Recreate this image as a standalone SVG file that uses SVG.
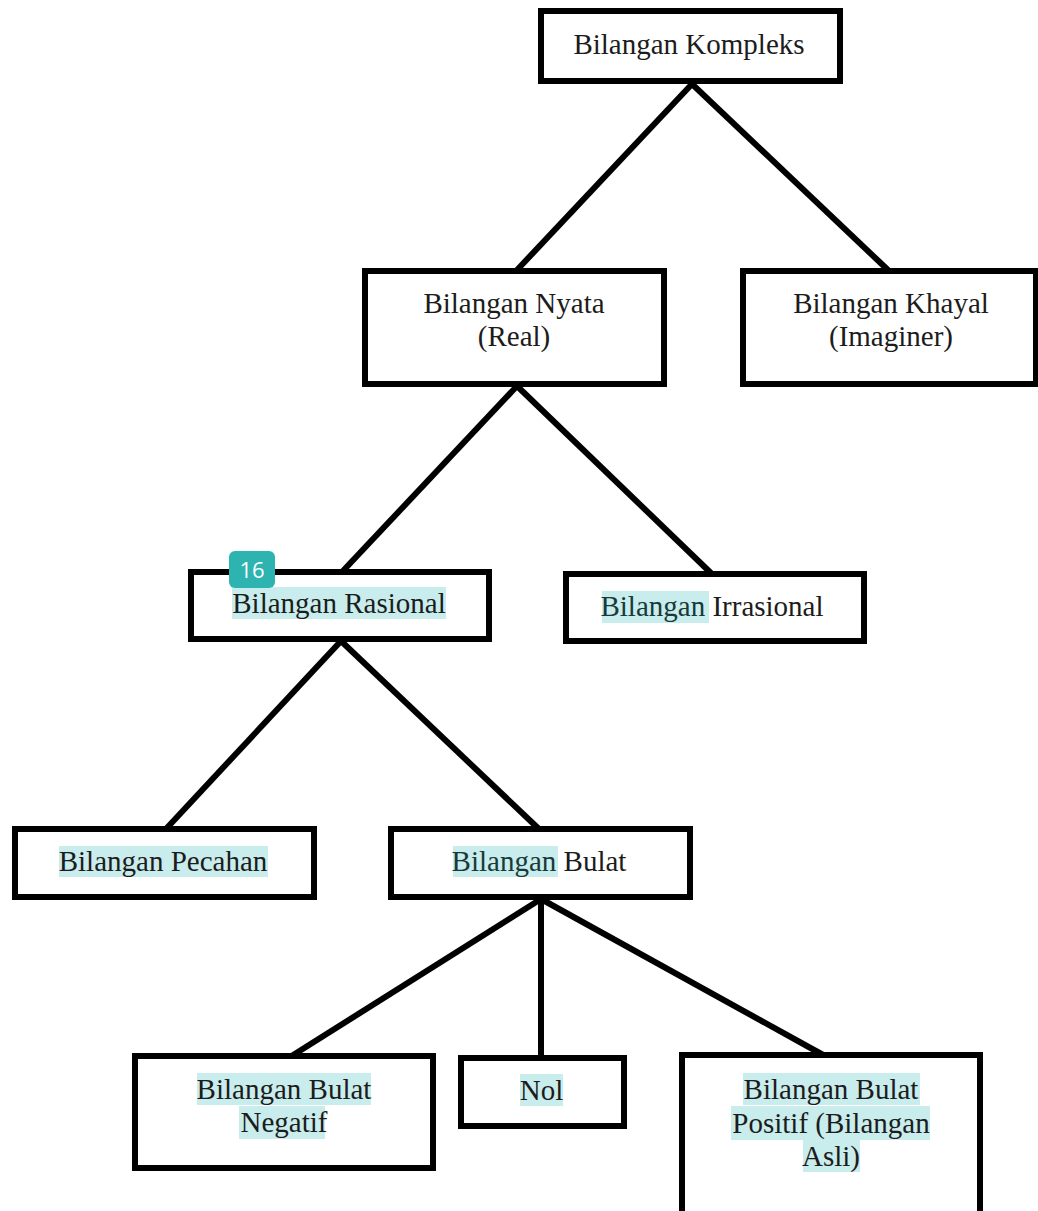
<svg xmlns="http://www.w3.org/2000/svg" width="1038" height="1211" viewBox="0 0 1038 1211">
<style>
.box{fill:#fff;stroke:#000;stroke-width:6}
.hl{fill:#c9ecec}
text.t{font-family:'Liberation Serif','Tinos','Times New Roman','DejaVu Serif',serif;font-size:29px;fill:#1c1c1c;text-anchor:middle}
.h{fill:#173a3a}
.con line{stroke:#000;stroke-width:6;stroke-linecap:butt}
</style>
<rect width="1038" height="1211" fill="#fff"/>
<g id="connectors" class="con">
<line x1="692" y1="84" x2="517" y2="270"/>
<line x1="692" y1="84" x2="888" y2="270"/>
<line x1="517" y1="386" x2="341" y2="573"/>
<line x1="517" y1="386" x2="713" y2="575"/>
<line x1="341" y1="641" x2="165" y2="830"/>
<line x1="341" y1="641" x2="540" y2="830"/>
<line x1="541" y1="899" x2="290" y2="1057"/>
<line x1="541" y1="899" x2="541" y2="1059"/>
<line x1="541" y1="899" x2="825" y2="1056"/>
</g>
<g id="kompleks">
<rect class="box" x="541" y="11" width="299" height="70"/>
<text class="t" x="689" y="54" font-family="Liberation Serif, serif">Bilangan Kompleks</text>
</g>
<g id="nyata">
<rect class="box" x="365" y="271" width="299" height="113"/>
<text class="t" x="514" y="313" font-family="Liberation Serif, serif">Bilangan Nyata</text>
<text class="t" x="514" y="346" font-family="Liberation Serif, serif">(Real)</text>
</g>
<g id="khayal">
<rect class="box" x="743" y="271" width="293" height="113"/>
<text class="t" x="891" y="313" font-family="Liberation Serif, serif">Bilangan Khayal</text>
<text class="t" x="891" y="346" font-family="Liberation Serif, serif">(Imaginer)</text>
</g>
<g id="rasional">
<rect class="box" x="191" y="572" width="298" height="67"/>
<rect class="hl" x="232" y="587" width="214" height="32"/>
<text class="t h" x="339" y="613" font-family="Liberation Serif, serif">Bilangan Rasional</text>
</g>
<g id="badge">
<rect x="229" y="551" width="46" height="37" rx="6" fill="#2db3b0"/>
<text x="252" y="578" font-family="'Open Sans','Noto Sans',sans-serif" font-size="22" fill="#fff" text-anchor="middle">16</text>
</g>
<g id="irrasional">
<rect class="box" x="566" y="574" width="298" height="67"/>
<rect class="hl" x="602" y="591" width="107" height="32"/>
<text class="t" x="712" y="616" font-family="Liberation Serif, serif"><tspan class="h">Bilangan</tspan> Irrasional</text>
</g>
<g id="pecahan">
<rect class="box" x="15" y="829" width="299" height="68"/>
<rect class="hl" x="59" y="846" width="209" height="31"/>
<text class="t h" x="163" y="871" font-family="Liberation Serif, serif">Bilangan Pecahan</text>
</g>
<g id="bulat">
<rect class="box" x="391" y="829" width="299" height="68"/>
<rect class="hl" x="453" y="846" width="105" height="31"/>
<text class="t" x="539" y="871" font-family="Liberation Serif, serif"><tspan class="h">Bilangan</tspan> Bulat</text>
</g>
<g id="negatif">
<rect class="box" x="135" y="1056" width="298" height="112"/>
<rect class="hl" x="197" y="1073" width="174" height="32"/>
<rect class="hl" x="239" y="1106" width="86" height="33"/>
<text class="t h" x="284" y="1099" font-family="Liberation Serif, serif">Bilangan Bulat</text>
<text class="t h" x="284" y="1132" font-family="Liberation Serif, serif">Negatif</text>
</g>
<g id="nol">
<rect class="box" x="461" y="1058" width="163" height="68"/>
<rect class="hl" x="520" y="1074" width="43" height="32"/>
<text class="t h" x="541.5" y="1100" font-family="Liberation Serif, serif">Nol</text>
</g>
<g id="positif">
<rect class="box" x="682" y="1055" width="298" height="170"/>
<rect class="hl" x="743" y="1073" width="177" height="32"/>
<rect class="hl" x="731" y="1106" width="199" height="34"/>
<rect class="hl" x="803" y="1140" width="57" height="32"/>
<text class="t h" x="831" y="1099" font-family="Liberation Serif, serif">Bilangan Bulat</text>
<text class="t h" x="831" y="1133" font-family="Liberation Serif, serif">Positif (Bilangan</text>
<text class="t h" x="831" y="1166" font-family="Liberation Serif, serif">Asli)</text>
</g>
</svg>
